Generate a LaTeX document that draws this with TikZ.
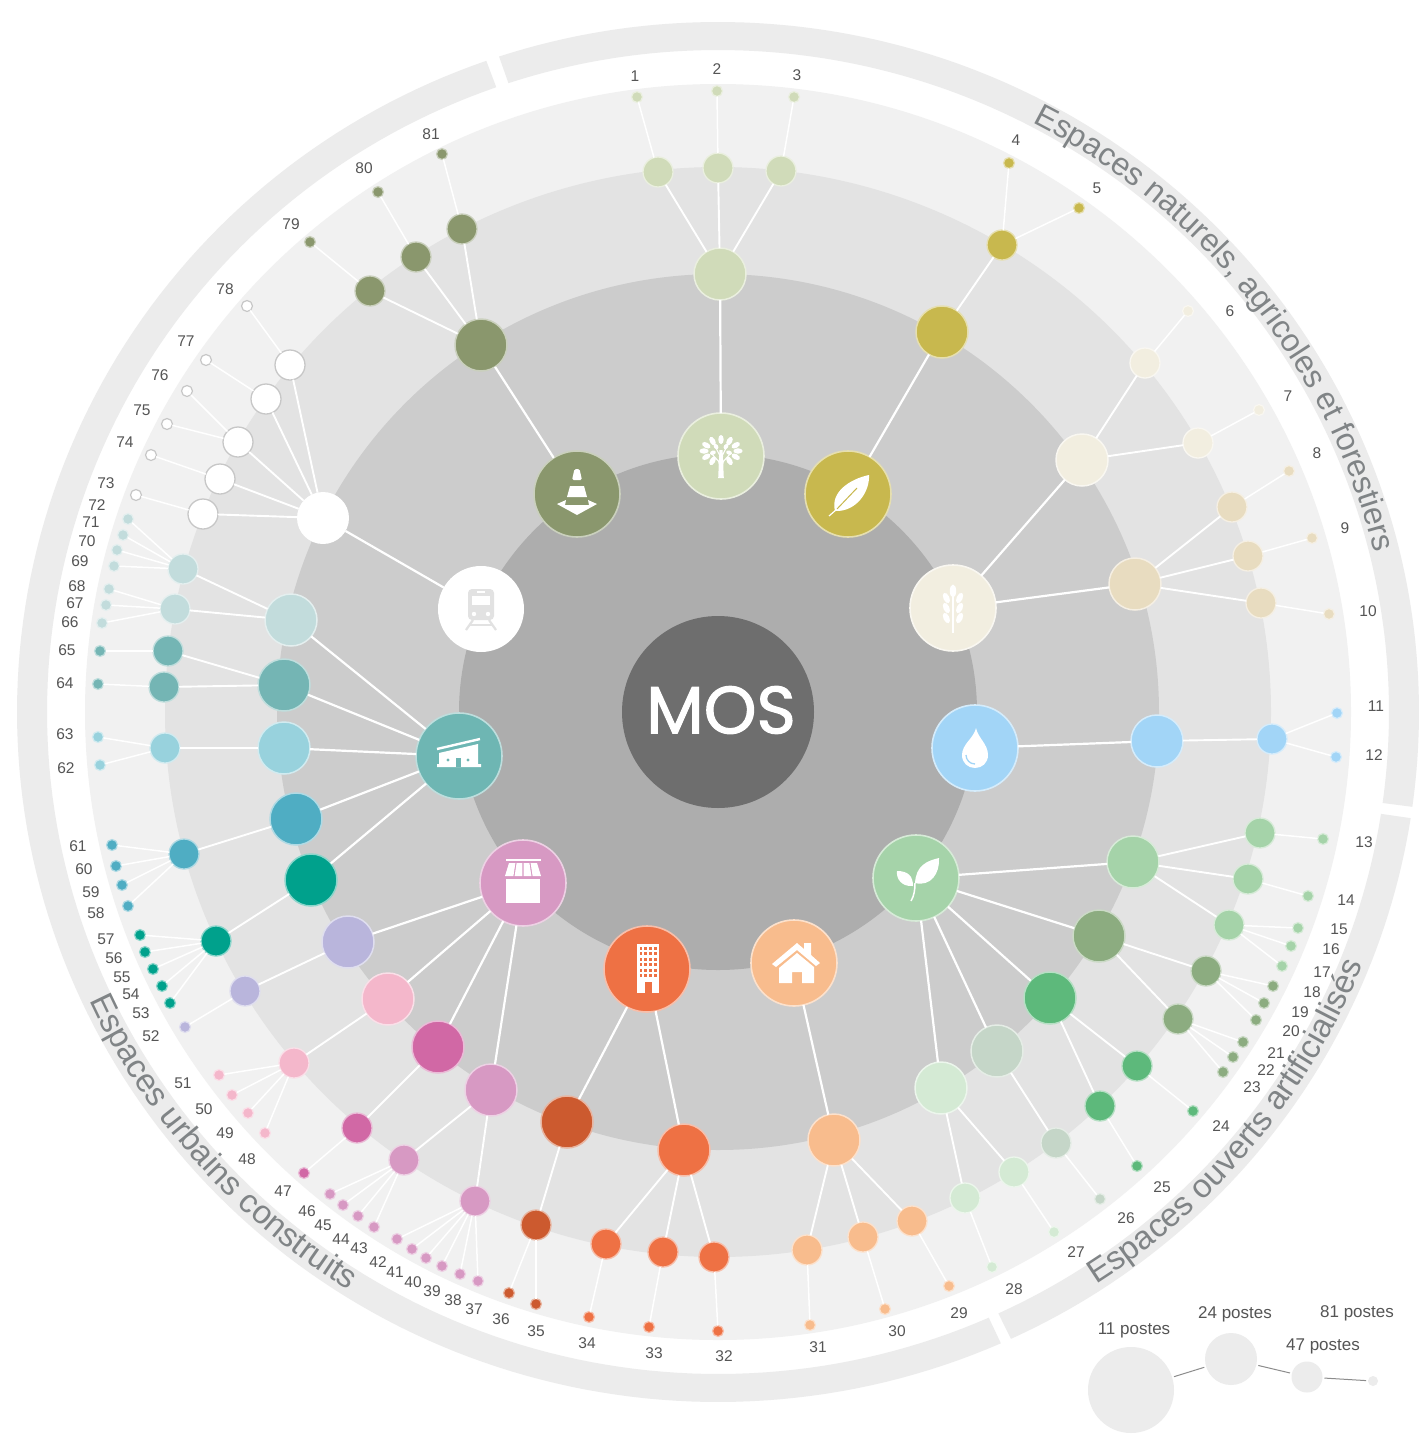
\documentclass[tikz,border=0pt]{standalone}
\usepackage{fontspec}
\setmainfont{Liberation Sans}
\newfontfamily\mosfont[FakeBold=1.6]{Poppins}
\usetikzlibrary{decorations.text}
\definecolor{cTree}{HTML}{D0DBB9}
\definecolor{cLeaf}{HTML}{C8B84E}
\definecolor{cWheatA}{HTML}{F2EEE0}
\definecolor{cWheatB}{HTML}{E8DCC0}
\definecolor{cWater}{HTML}{A2D5F7}
\definecolor{cPlant}{HTML}{A5D3A9}
\definecolor{cPlB}{HTML}{8CAC80}
\definecolor{cPlC}{HTML}{5DB97B}
\definecolor{cPlD}{HTML}{C5D6C8}
\definecolor{cPlE}{HTML}{D4EAD4}
\definecolor{cHouse}{HTML}{F8BC8D}
\definecolor{cBldA}{HTML}{EE7144}
\definecolor{cBldB}{HTML}{CC5A2F}
\definecolor{cShA}{HTML}{D799C3}
\definecolor{cShB}{HTML}{D168A5}
\definecolor{cShC}{HTML}{F4B7CB}
\definecolor{cShD}{HTML}{B9B5DC}
\definecolor{cWare}{HTML}{6EB6B3}
\definecolor{cWhA}{HTML}{00A18C}
\definecolor{cWhB}{HTML}{4FADC3}
\definecolor{cWhC}{HTML}{98D2DD}
\definecolor{cWhD}{HTML}{74B5B4}
\definecolor{cWhE}{HTML}{C2DCDC}
\definecolor{cCone}{HTML}{8A976D}
\definecolor{cBand}{HTML}{ECECEC}
\definecolor{cArcText}{HTML}{808486}
\definecolor{cNum}{HTML}{555555}
\definecolor{cTrainIcon}{HTML}{E2E2E2}
\newcommand{\arcfont}{\fontsize{33}{36}\selectfont}
\newcommand{\arcfontb}{\fontsize{32}{36}\selectfont}
\newcommand{\ellfill}[3]{\fill[#1] (718,712) circle[x radius=#2,y radius=#3];}
\newcommand{\bandarc}[2]{\fill[cBand] plot[domain=#1:#2,samples=150] ({718+701*cos(\x)},{712-690*sin(\x)}) -- plot[domain=#2:#1,samples=150] ({718+671*cos(\x)},{712-662*sin(\x)}) -- cycle;}
\tikzset{
 dotbase/.style={circle,inner sep=0pt,outer sep=0pt},
 lvA/.style={dotbase,minimum size=86pt,line width=1.6pt},
 lvB/.style={dotbase,minimum size=52pt,line width=1.5pt},
 lvC/.style={dotbase,minimum size=30pt,line width=1.3pt},
 lvD/.style={dotbase,minimum size=11pt,line width=1.2pt},
 numlabel/.style={text=cNum,inner sep=0pt,font=\fontsize{15.5}{18}\selectfont},
 legendlabel/.style={text=cNum,inner sep=0pt,font=\fontsize{17}{20}\selectfont},
 linkA/.style={white,line width=2.2pt},
 linkB/.style={white,line width=1.9pt},
 linkC/.style={white,line width=1.5pt},
 legenddot/.style={dotbase,fill=cBand,outer sep=2pt},
 legendlink/.style={draw=gray!90,line width=1pt},
}
\begin{document}
\begin{tikzpicture}[x=1pt,y=-1pt]
\useasboundingbox (0,0) rectangle (1421,1440);
\fill[white] (0,0) rectangle (1421,1440);
% outer bands
\bandarc{108.2}{-7.9}
\bandarc{-8.85}{-65.3}
\bandarc{-66.2}{-250.7}
% rings
\ellfill{cBand!75!white}{633}{628}
\ellfill{black!11}{553}{545}
\ellfill{black!20}{441}{438}
\ellfill{black!32}{259}{258}
% level 1
\node[lvA,fill=cTree,draw=cTree!45!white] (tree) at (721,456) {};
\node[lvA,fill=cLeaf,draw=cLeaf!45!white] (leafn) at (848,494) {};
\node[lvA,fill=cWheatA,draw=cWheatA!45!white] (wheat) at (953,608) {};
\node[lvA,fill=cWater,draw=cWater!45!white] (water) at (975,748) {};
\node[lvA,fill=cPlant,draw=cPlant!45!white] (plant) at (916,878) {};
\node[lvA,fill=cHouse,draw=cHouse!45!white] (house) at (794,963) {};
\node[lvA,fill=cBldA,draw=cBldA!45!white] (bldg) at (647,969) {};
\node[lvA,fill=cShA,draw=cShA!45!white] (shop) at (523,883) {};
\node[lvA,fill=cWare,draw=cWare!45!white] (ware) at (459,756) {};
\node[lvA,fill=white] (train) at (481,609) {};
\node[lvA,fill=cCone,draw=cCone!45!white] (cone) at (577,494) {};
% level 2
\foreach \n/\x/\y/\p/\c in {
a1/720/274/tree/cTree,a2/942/332/leafn/cLeaf,a3/1082/460/wheat/cWheatA,a4/1135/584/wheat/cWheatB,
a5/1157/741/water/cWater,a6/1133/862/plant/cPlant,a7/1099/936/plant/cPlB,a8/1050/998/plant/cPlC,
a9/997/1051/plant/cPlD,a10/941/1088/plant/cPlE,a11/834/1140/house/cHouse,a12/684/1150/bldg/cBldA,
a13/567/1122/bldg/cBldB,a14/491/1090/shop/cShA,a15/438/1047/shop/cShB,a16/388/999/shop/cShC,
a17/348/942/shop/cShD,a18/311/880/ware/cWhA,a19/296/819/ware/cWhB,a20/284/748/ware/cWhC,
a21/284/685/ware/cWhD,a22/291/620/ware/cWhE,a24/481/345/cone/cCone}{
 \node[lvB,fill=\c,draw=\c!45!white] (\n) at (\x,\y) {};
 \draw[linkA] (\p) -- (\n);
}
\node[lvB,fill=white] (a23) at (323,518) {};
\draw[linkA] (train) -- (a23);
% level 3
\foreach \n/\x/\y/\p/\c in {
b1/658/172/a1/cTree,b2/718/168/a1/cTree,b3/781/171/a1/cTree,b4/1002/245/a2/cLeaf,
b5/1145/363/a3/cWheatA,b6/1198/443/a3/cWheatA,b7/1232/507/a4/cWheatB,b8/1248/556/a4/cWheatB,b9/1261/603/a4/cWheatB,
b10/1272/739/a5/cWater,b11/1260/833/a6/cPlant,b12/1248/879/a6/cPlant,b13/1229/925/a6/cPlant,
b14/1206/971/a7/cPlB,b15/1178/1019/a7/cPlB,b16/1137/1066/a8/cPlC,b17/1100/1106/a8/cPlC,
b18/1056/1143/a9/cPlD,b19/1014/1172/a10/cPlE,b20/965/1198/a10/cPlE,
b21/912/1221/a11/cHouse,b22/863/1237/a11/cHouse,b23/807/1250/a11/cHouse,
b24/714/1257/a12/cBldA,b25/663/1252/a12/cBldA,b26/606/1244/a12/cBldA,b27/536/1225/a13/cBldB,
b28/475/1201/a14/cShA,b29/404/1160/a14/cShA,b30/357/1128/a15/cShB,b31/294/1063/a16/cShC,b32/245/991/a17/cShD,
b33/216/941/a18/cWhA,b34/184/854/a19/cWhB,b35/165/748/a20/cWhC,b36/168/651/a21/cWhD,b37/164/687/a21/cWhD,
b38/175/609/a22/cWhE,b39/183/569/a22/cWhE,b45/370/291/a24/cCone,b46/416/257/a24/cCone,b47/462/229/a24/cCone}{
 \node[lvC,fill=\c,draw=\c!45!white] (\n) at (\x,\y) {};
 \draw[linkB] (\p) -- (\n);
}
\foreach \n/\x/\y in {b40/203/514,b41/220/479,b42/238/442,b43/266/399,b44/290/365}{
 \node[lvC,fill=white,draw=black!22] (\n) at (\x,\y) {};
 \draw[linkB] (a23) -- (\n);
}
% level 4
\foreach \n/\x/\y/\p/\c/\lx/\ly in {
1/637/97/b1/cTree/635/76,2/717/91/b2/cTree/717/69,3/794/97/b3/cTree/797/75,4/1009/163/b4/cLeaf/1016/140,5/1079/208/b4/cLeaf/1097/188,
6/1188/311/b5/cWheatA/1230/311,7/1259/410/b6/cWheatA/1288/396,8/1289/471/b7/cWheatB/1317/453,9/1312/538/b8/cWheatB/1345/528,10/1329/614/b9/cWheatB/1368/611,
11/1337/713/b10/cWater/1376/706,12/1336/757/b10/cWater/1374/755,13/1323/839/b11/cPlant/1364/842,14/1308/896/b12/cPlant/1346/900,
15/1298/928/b13/cPlant/1339/929,16/1291/946/b13/cPlant/1331/949,17/1282/966/b13/cPlant/1322/972,18/1273/986/b14/cPlB/1312/992,19/1264/1003/b14/cPlB/1300/1012,20/1256/1020/b14/cPlB/1291/1031,
21/1243/1042/b15/cPlB/1276/1053,22/1233/1057/b15/cPlB/1266/1070,23/1223/1072/b15/cPlB/1252/1087,24/1193/1111/b16/cPlC/1221/1126,25/1137/1166/b17/cPlC/1162/1187,
26/1100/1199/b18/cPlD/1126/1218,27/1054/1232/b19/cPlE/1076/1252,28/992/1267/b20/cPlE/1014/1289,29/949/1286/b21/cHouse/959/1313,30/885/1309/b22/cHouse/897/1331,31/810/1325/b23/cHouse/818/1347,
32/718/1331/b24/cBldA/724/1356,33/649/1327/b25/cBldA/654/1353,34/589/1317/b26/cBldA/587/1343,35/536/1304/b27/cBldB/536/1331,36/509/1293/b27/cBldB/501/1319,
37/478/1281/b28/cShA/474/1309,38/460/1274/b28/cShA/453/1300,39/442/1266/b28/cShA/432/1291,40/426/1258/b28/cShA/413/1282,41/412/1249/b28/cShA/395/1272,42/397/1239/b28/cShA/378/1262,
43/374/1227/b29/cShA/359/1248,44/358/1216/b29/cShA/341/1239,45/343/1205/b29/cShA/323/1225,46/330/1194/b29/cShA/307/1211,47/304/1173/b30/cShB/283/1191,
48/265/1133/b31/cShC/247/1159,49/248/1113/b31/cShC/225/1133,50/232/1095/b31/cShC/204/1109,51/219/1075/b31/cShC/183/1083,52/185/1027/b32/cShD/151/1036,
53/170/1003/b33/cWhA/141/1013,54/162/986/b33/cWhA/131/994,55/153/969/b33/cWhA/122/977,56/145/952/b33/cWhA/114/958,57/140/935/b33/cWhA/106/939,
58/128/906/b34/cWhB/96/913,59/122/885/b34/cWhB/91/892,60/116/866/b34/cWhB/84/869,61/112/845/b34/cWhB/78/846,
62/100/765/b35/cWhC/66/768,63/98/737/b35/cWhC/65/734,64/98/684/b37/cWhD/65/683,65/100/651/b36/cWhD/67/650,
66/102/623/b38/cWhE/70/622,67/106/605/b38/cWhE/75/603,68/109/589/b38/cWhE/77/586,69/114/566/b39/cWhE/80/561,70/117/550/b39/cWhE/87/541,71/123/535/b39/cWhE/91/522,72/128/519/b39/cWhE/97/505,
79/310/242/b45/cCone/291/224,80/378/192/b46/cCone/364/168,81/442/154/b47/cCone/431/134}{
 \node[lvD,fill=\c,draw=\c!45!white] (n\n) at (\x,\y) {};
 \draw[linkC] (\p) -- (n\n);
 \node[numlabel] (t\n) at (\lx,\ly) {\n};
}
\foreach \n/\x/\y/\p/\lx/\ly in {73/136/495/b40/106/483,74/151/455/b41/125/442,75/167/424/b42/142/410,76/187/391/b42/160/375,77/206/360/b43/186/341,78/247/306/b44/225/289}{
 \node[lvD,fill=white,draw=black!22] (n\n) at (\x,\y) {};
 \draw[linkC] (\p) -- (n\n);
 \node[numlabel] (t\n) at (\lx,\ly) {\n};
}
% centre
\node[dotbase,minimum size=192pt,fill=black!57] (mos) at (718,712) {};
\node[inner sep=0pt,text=white,font=\mosfont\fontsize{67}{70}\selectfont] (mostext) at (721,710) {MOS};
% icons
\begin{scope}[shift={(tree)}]
 \fill[white] (-1.6,-6) -- (1.6,-6) -- (2.8,22) -- (-2.8,22) -- cycle;
 \draw[white,line width=1.1pt] (0,8) -- (-10,-3) (0,8) -- (10,-3) (0,2) -- (-5,-8) (0,2) -- (5,-8);
 \foreach \a in {0,30,...,330}{\fill[white] ({17*cos(\a)},{-5+11.5*sin(\a)}) circle[x radius=4.6,y radius=2.7,rotate=-\a];}
 \foreach \a in {18,90,162,234,306}{\fill[white] ({8.5*cos(\a)},{-5+5.5*sin(\a)}) circle[x radius=3,y radius=2.1,rotate=-\a];}
\end{scope}
\begin{scope}[shift={(leafn)}]
 \fill[white] (-13,17) .. controls (-18,-2) and (2,-15) .. (21,-19) .. controls (22,-2) and (8,18) .. (-13,17) -- cycle;
 \draw[cLeaf,line width=1pt] (-11,15) -- (9,-6);
 \draw[white,line width=1.2pt] (-19,22) -- (-11,15);
\end{scope}
\begin{scope}[shift={(wheat)}]
 \draw[white,line width=1.6pt] (0,-20) -- (0,25);
 \fill[white] (0,-17) circle[x radius=3.2,y radius=6.5];
 \foreach \v in {-10,0,10}{
  \fill[white] (-6.6,\v) circle[x radius=3,y radius=5.6,rotate=25];
  \fill[white] (6.6,\v) circle[x radius=3,y radius=5.6,rotate=-25];
 }
\end{scope}
\begin{scope}[shift={(water)}]
 \fill[white] (1,-20) .. controls (3,-10) and (13,-4) .. (13,7) .. controls (13,15) and (7,20) .. (0,20) .. controls (-7,20) and (-13,15) .. (-13,7) .. controls (-13,-4) and (-1,-10) .. (1,-20) -- cycle;
 \draw[cWater,line width=1.3pt] (-9,7) .. controls (-9,12) and (-5,16) .. (0,16);
\end{scope}
\begin{scope}[shift={(plant)}]
 \fill[white] (-1,5) .. controls (0,-12) and (10,-17) .. (23,-20) .. controls (24,-5) and (15,9) .. (-1,5) -- cycle;
 \fill[white] (-3,8) .. controls (-15,9) and (-20,0) .. (-19,-7) .. controls (-8,-7) and (-3,-2) .. (-3,8) -- cycle;
 \draw[white,line width=1.5pt] (-1,5) .. controls (-1,12) and (-2,18) .. (-5,23);
\end{scope}
\begin{scope}[shift={(house)}]
 \fill[white] (-22,1) -- (3,-20) -- (10,-14) -- (10,-20) -- (17,-20) -- (17,-8) -- (26,0) -- (22,3) -- (3,-13) -- (-18,4) -- cycle;
 \fill[white] (-15,5) -- (3,-10) -- (20,4) -- (20,20) -- (8,20) -- (8,9) -- (-2,9) -- (-2,20) -- (-15,20) -- cycle;
\end{scope}
\begin{scope}[shift={(bldg)}]
 \fill[white] (-10,-25) rectangle (12,24);
 \foreach \i in {0,1,2,3}{\foreach \j in {0,...,5}{\fill[cBldA] ({-7.5+\i*4.8},{-22+\j*5.4}) rectangle +(2.6,3);}}
 \fill[cBldA] (-2,13) rectangle (5,24);
\end{scope}
\begin{scope}[shift={(shop)}]
 \draw[white,line width=1.4pt] (-17,-23) -- (18,-23);
 \foreach \ta/\tb/\ba/\bb in {-14/-7.6/-18/-9.6,-6.4/-0.6/-8.4/-0.6,0.6/6.4/0.6/8.4,7.6/14/9.6/18}{
  \fill[white] (\ta,-20) -- (\tb,-20) -- (\bb,-7) -- (\ba,-7) -- cycle;
 }
 \fill[white] (-17,-4) rectangle (17,20);
\end{scope}
\begin{scope}[shift={(ware)}]
 \draw[white,line width=2.4pt] (-22,-7) -- (21,-17);
 \fill[white] (-20,-3) -- (19,-12) -- (19,8) -- (22,8) -- (22,11) -- (-22,11) -- (-22,8) -- (-20,8) -- cycle;
 \fill[cWare] (-3,2) rectangle (2,11);
 \fill[cWare] (-11,4) circle[radius=1.6];
 \fill[cWare] (9,4) circle[radius=1.6];
\end{scope}
\begin{scope}[shift={(train)}]
 \fill[cTrainIcon,rounded corners=4pt] (-13,-20) rectangle (13,11);
 \fill[white] (-9,-13) rectangle (9,-4);
 \fill[white] (-4,-18) rectangle (4,-16);
 \fill[white] (-7,5) circle[radius=2.2];
 \fill[white] (7,5) circle[radius=2.2];
 \draw[cTrainIcon,line width=2.2pt] (-8,11) -- (-15,21) (8,11) -- (15,21);
 \draw[cTrainIcon,line width=1.8pt] (-11,16) -- (11,16);
\end{scope}
\begin{scope}[shift={(cone)}]
 \fill[white,rounded corners=1.5pt] (-2.5,-25) -- (2.5,-25) -- (5,-14) -- (-5,-14) -- cycle;
 \fill[white] (-7,-8) -- (7,-8) -- (10,3) -- (-10,3) -- cycle;
 \fill[white] (-11,6) -- (-20,10) -- (0,21) -- (20,10) -- (11,6) -- (12,11) -- (-12,11) -- cycle;
\end{scope}
% band texts
\path[decorate,decoration={text along path,text={|\arcfontb\color{cArcText}|Espaces naturels, agricoles et forestiers}}]
 plot[domain=62.3:8,samples=200] ({718+676*cos(\x)},{712-666*sin(\x)});
\path[decorate,decoration={text along path,text={|\arcfont\color{cArcText}|Espaces urbains construits}}]
 plot[domain=205:245,samples=200] ({718+694*cos(\x)},{712-683*sin(\x)});
\path[decorate,decoration={text along path,text={|\arcfont\color{cArcText}|Espaces ouverts artificialisés}}]
 plot[domain=-57:-15,samples=200] ({718+694*cos(\x)},{712-683*sin(\x)});
% legend
\node[legenddot,minimum size=86pt] (k1) at (1131,1390) {};
\node[legenddot,minimum size=52pt] (k2) at (1231,1359) {};
\node[legenddot,minimum size=31pt] (k3) at (1307,1377) {};
\node[legenddot,minimum size=10pt] (k4) at (1373,1381) {};
\draw[legendlink] (k1) -- (k2);
\draw[legendlink] (k2) -- (k3);
\draw[legendlink] (k3) -- (k4);
\node[legendlabel] (k1t) at (1134,1330) {11 postes};
\node[legendlabel] (k2t) at (1235,1314) {24 postes};
\node[legendlabel] (k3t) at (1323,1346) {47 postes};
\node[legendlabel] (k4t) at (1357,1313) {81 postes};
\end{tikzpicture}
\end{document}
